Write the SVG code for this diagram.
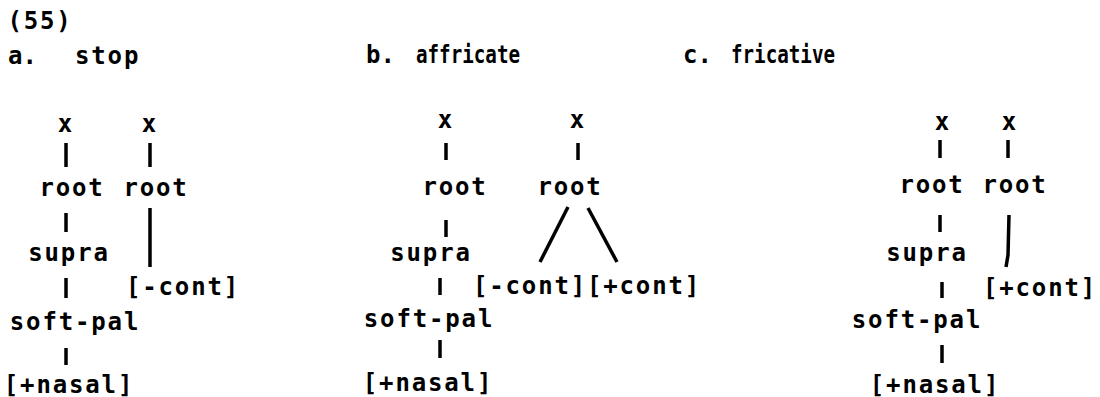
<svg xmlns="http://www.w3.org/2000/svg" width="1100" height="397" viewBox="0 0 1100 397">
<style>
text{font-family:"DejaVu Sans Mono","Liberation Mono",monospace;font-size:24px;font-weight:bold;letter-spacing:1.85px;fill:#000;text-anchor:middle}
text.s{text-anchor:start;letter-spacing:0}
text.s.w{letter-spacing:1.85px}
.c line,.c polyline{stroke:#000;stroke-width:3.5;fill:none;stroke-linecap:butt}
</style>
<rect width="1100" height="397" fill="#fff"/>
<g id="labels">
<text x="40" y="29">(55)</text>
<text class="s" x="8" y="64">a.</text>
<text class="s w" x="75" y="64">stop</text>
<text class="s" x="366" y="63">b.</text>
<text class="s" x="416" y="63" textLength="104" lengthAdjust="spacingAndGlyphs">affricate</text>
<text class="s" x="683" y="63">c.</text>
<text class="s" x="731" y="63" textLength="104" lengthAdjust="spacingAndGlyphs">fricative</text>
</g>
<g id="a-x1"><text x="66" y="132">x</text></g>
<g id="a-x2"><text x="150" y="132">x</text></g>
<g id="a-root1"><text x="72" y="196">root</text></g>
<g id="a-root2"><text x="156" y="196">root</text></g>
<g id="a-supra"><text x="69" y="261">supra</text></g>
<g id="a-cont"><text x="183" y="295">[-cont]</text></g>
<g id="a-softpal"><text x="75" y="330">soft-pal</text></g>
<g id="a-nasal"><text x="69" y="393">[+nasal]</text></g>
<g id="b-x1"><text x="446" y="128">x</text></g>
<g id="b-x2"><text x="578" y="128">x</text></g>
<g id="b-root1"><text x="455" y="195">root</text></g>
<g id="b-root2"><text x="570" y="195">root</text></g>
<g id="b-supra"><text x="431" y="261">supra</text></g>
<g id="b-mcont"><text x="530" y="294">[-cont]</text></g>
<g id="b-pcont"><text x="644" y="294">[+cont]</text></g>
<g id="b-softpal"><text x="429" y="327">soft-pal</text></g>
<g id="b-nasal"><text x="428" y="391">[+nasal]</text></g>
<g id="c-x1"><text x="943" y="130">x</text></g>
<g id="c-x2"><text x="1010" y="130">x</text></g>
<g id="c-root1"><text x="932" y="193">root</text></g>
<g id="c-root2"><text x="1015" y="193">root</text></g>
<g id="c-supra"><text x="927" y="261">supra</text></g>
<g id="c-cont"><text x="1040" y="296">[+cont]</text></g>
<g id="c-softpal"><text x="917" y="328">soft-pal</text></g>
<g id="c-nasal"><text x="935" y="393">[+nasal]</text></g>
<g id="connectors" class="c">
<line x1="66" y1="143" x2="66" y2="167"/>
<line x1="150" y1="143" x2="150" y2="167"/>
<line x1="66" y1="213" x2="66" y2="232"/>
<line x1="150" y1="208" x2="150" y2="267"/>
<line x1="66" y1="278" x2="66" y2="298"/>
<line x1="66" y1="348" x2="66" y2="365"/>
<line x1="446" y1="143" x2="446" y2="160"/>
<line x1="578" y1="143" x2="578" y2="160"/>
<line x1="446" y1="220" x2="446" y2="237"/>
<line x1="568" y1="207" x2="540" y2="262"/>
<line x1="588" y1="208" x2="617" y2="262"/>
<line x1="440" y1="278" x2="440" y2="295"/>
<line x1="440" y1="340" x2="440" y2="358"/>
<line x1="940" y1="140" x2="940" y2="158"/>
<line x1="1008" y1="140" x2="1008" y2="158"/>
<line x1="940" y1="215" x2="940" y2="232"/>
<polyline points="1009,215 1008,255 1006,267"/>
<line x1="942" y1="282" x2="942" y2="298"/>
<line x1="942" y1="345" x2="942" y2="363"/>
</g>
</svg>
